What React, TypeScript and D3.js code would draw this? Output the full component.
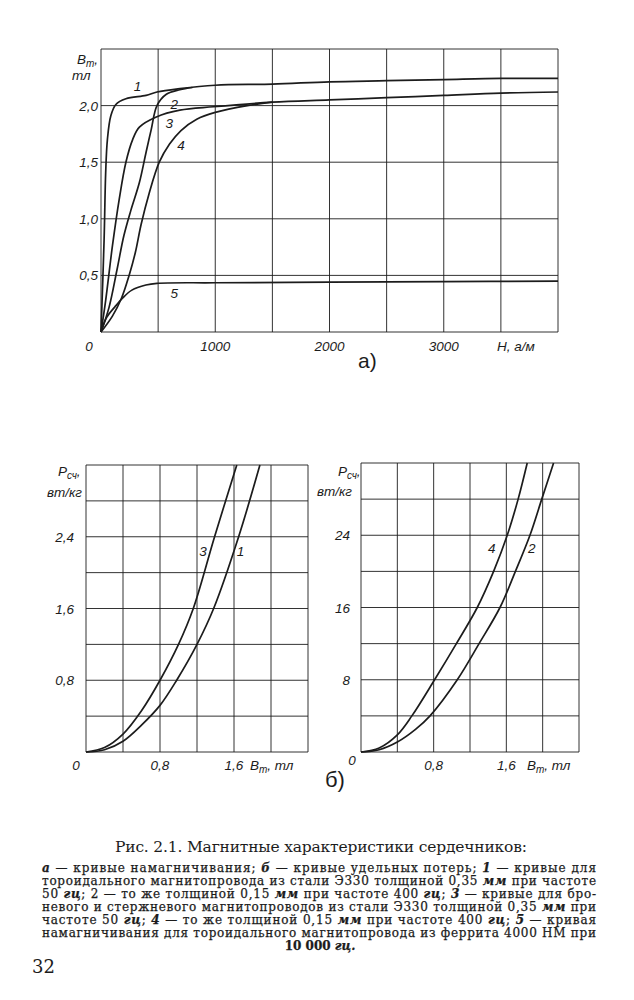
import React from 'react';
import * as d3 from 'd3';

type Pt = [number, number];

// а) кривые намагничивания, H (а/м) -> Bm (тл)
const magCurve1: Pt[] = [[0, 0], [27, 0.81], [41, 1.41], [56, 1.7], [86, 1.91], [130, 2.01], [218, 2.06], [395, 2.09], [490, 2.12], [690, 2.15], [1000, 2.18], [1500, 2.19], [2000, 2.21], [2500, 2.22], [3000, 2.23], [3500, 2.24], [4000, 2.24]];
const magCurve2: Pt[] = [[0, 0], [71, 0.22], [140, 0.55], [200, 0.85], [260, 1.07], [336, 1.32], [395, 1.59], [440, 1.79], [490, 2.0], [572, 2.1], [690, 2.14], [800, 2.16]];
const magCurve3: Pt[] = [[0, 0], [41, 0.28], [100, 0.76], [159, 1.17], [218, 1.5], [277, 1.7], [336, 1.81], [484, 1.9], [690, 1.96], [985, 1.99], [1500, 2.03], [2000, 2.05], [2500, 2.07], [3000, 2.09], [3500, 2.11], [4000, 2.12]];
const magCurve4: Pt[] = [[0, 0], [100, 0.14], [180, 0.3], [246, 0.5], [300, 0.7], [351, 0.95], [420, 1.22], [510, 1.5], [600, 1.66], [700, 1.78], [838, 1.88], [1000, 1.94], [1280, 2.0], [1500, 2.03]];
const magCurve5: Pt[] = [[0, 0], [50, 0.13], [120, 0.22], [189, 0.3], [270, 0.37], [393, 0.415], [490, 0.43], [1000, 0.435], [2000, 0.44], [3000, 0.445], [4000, 0.45]];
const magCurves = [magCurve1, magCurve2, magCurve3, magCurve4, magCurve5];
// номера кривых и где они стоят (H, B)
const magLabels: [string, number, number][] = [['1', 319, 2.16], ['2', 641, 2.0], ['3', 598, 1.83], ['4', 700, 1.64], ['5', 641, 0.33]];

const hGrid = d3.range(0, 4001, 500);
const bGrid = d3.range(0, 2.51, 0.5);
const hTicks = [0, 1000, 2000, 3000];
const hTickLabels = ['0', '1000', '2000', '3000'];
const bTicks = [0.5, 1.0, 1.5, 2.0];
const bTickLabels = ['0,5', '1,0', '1,5', '2,0'];

// б) кривые удельных потерь, Bm (тл) -> Pсч (вт/кг)
const lossCurve3: Pt[] = [[0, 0], [0.2, 0.05], [0.4, 0.2], [0.6, 0.46], [0.8, 0.8], [1.0, 1.2], [1.16, 1.6], [1.39, 2.4], [1.63, 3.2]];
const lossCurve1: Pt[] = [[0, 0], [0.2, 0.025], [0.4, 0.12], [0.6, 0.3], [0.8, 0.52], [0.98, 0.8], [1.2, 1.2], [1.38, 1.6], [1.65, 2.4], [1.88, 3.2]];
const lossCurve4: Pt[] = [[0, 0], [0.2, 0.45], [0.4, 1.9], [0.56, 4], [0.81, 8], [1.05, 12], [1.28, 16], [1.46, 20], [1.61, 24], [1.73, 28], [1.83, 32]];
const lossCurve2: Pt[] = [[0, 0], [0.2, 0.25], [0.4, 1.1], [0.6, 2.5], [0.76, 4], [1.06, 8], [1.3, 12], [1.53, 16], [1.7, 20], [1.86, 24], [1.99, 28], [2.12, 32]];
const lossLabelsLeft: [string, number, number][] = [['3', 1.265, 2.22], ['1', 1.67, 2.22]];
const lossLabelsRight: [string, number, number][] = [['4', 1.44, 22.4], ['2', 1.88, 22.4]];

const bmGrid = d3.range(7).map(i => i * 0.4);
const pLeftGrid = d3.range(9).map(i => i * 0.4);
const pRightGrid = d3.range(9).map(i => i * 4);
const bmTicks = [0.8, 1.6];
const bmTickLabels = ['0,8', '1,6'];
const pLeftTicks = [0.8, 1.6, 2.4];
const pLeftTickLabels = ['0,8', '1,6', '2,4'];
const pRightTicks = [8, 16, 24];
const pRightTickLabels = ['8', '16', '24'];

const captionTitle = 'Рис. 2.1. Магнитные характеристики сердечников:';
// _..._ = курсив
const captionLines = [
  '_а_ — кривые намагничивания; _б_ — кривые удельных потерь; _1_ — кривые для',
  'тороидального магнитопровода из стали Э330 толщиной 0,35 _мм_ при частоте',
  '50 _гц_; 2 — то же толщиной 0,15 _мм_ при частоте 400 _гц_; _3_ — кривые для бро-',
  'невого и стержневого магнитопроводов из стали Э330 толщиной 0,35 _мм_ при',
  'частоте 50 _гц_; _4_ — то же толщиной 0,15 _мм_ при частоте 400 _гц_; _5_ — кривая',
  'намагничивания для тороидального магнитопровода из феррита 4000 НМ при',
];
const captionLast = '10 000 _гц._';

const INK = '#1c1c1c';
const SANS = '"Liberation Sans", Arial, sans-serif';
const SERIF = '"DejaVu Serif", "Liberation Serif", serif';

type Scale = d3.ScaleLinear<number, number>;

const Panel: React.FC<{ x: Scale; y: Scale; xs: number[]; ys: number[]; curves: Pt[][] }> = ({ x, y, xs, ys, curves }) => {
  const [x0, x1] = x.range();
  const [y0, y1] = y.range();
  const line = d3.line<Pt>().x(d => x(d[0])).y(d => y(d[1])).curve(d3.curveCatmullRom.alpha(0.5));
  return (
    <g>
      <g stroke={INK} strokeWidth={0.9} fill="none">
        {xs.map(v => <line key={'gx' + v} x1={x(v)} x2={x(v)} y1={y0} y2={y1} />)}
        {ys.map(v => <line key={'gy' + v} x1={x0} x2={x1} y1={y(v)} y2={y(v)} />)}
      </g>
      <g stroke={INK} strokeWidth={1.7} fill="none" strokeLinejoin="round">
        {curves.map((c, i) => <path key={i} d={line(c) || ''} />)}
      </g>
    </g>
  );
};

const Italic: React.FC<{ s: string }> = ({ s }) => (
  <>
    {s.split('_').map((part, i) =>
      i % 2 === 1 ? <tspan key={i} fontStyle="italic" fontWeight="bold">{part}</tspan> : <tspan key={i}>{part}</tspan>
    )}
  </>
);

const App: React.FC = () => {
  const xA = d3.scaleLinear().domain([0, 4000]).range([101, 558]);
  const yA = d3.scaleLinear().domain([0, 2.5]).range([332, 49]);
  const xL = d3.scaleLinear().domain([0, 2.4]).range([86, 308]);
  const yL = d3.scaleLinear().domain([0, 3.2]).range([752, 465]);
  const xR = d3.scaleLinear().domain([0, 2.4]).range([361, 579]);
  const yR = d3.scaleLinear().domain([0, 32]).range([752, 463]);

  const tick = { fontFamily: SANS, fontStyle: 'italic' as const, fontSize: 13.5, fill: INK };
  const body = { fontFamily: SERIF, fill: INK, stroke: INK, strokeWidth: 0.25 };

  return (
    <svg width={634} height={1000} style={{ position: 'absolute', left: 0, top: 0, background: '#fff' }}>
      {/* а) */}
      <Panel x={xA} y={yA} xs={hGrid} ys={bGrid} curves={magCurves} />
      {bTicks.map((v, i) => (
        <text key={'bt' + v} {...tick} x={98} y={yA(v) + 5} textAnchor="end">{bTickLabels[i]}</text>
      ))}
      {hTicks.map((v, i) => (
        <text key={'ht' + v} {...tick} x={v === 0 ? xA(v) - 12 : xA(v)} y={351} textAnchor="middle">{hTickLabels[i]}</text>
      ))}
      <text {...tick} x={497} y={351}>H, a/м</text>
      <text {...tick} x={77} y={64}>B<tspan fontSize={10} dy={3}>m</tspan><tspan dy={-3}>,</tspan></text>
      <text {...tick} x={72} y={80}>тл</text>
      {magLabels.map(([t, h, b]) => (
        <text key={'ml' + t} {...tick} x={xA(h)} y={yA(b)} textAnchor="middle" dominantBaseline="middle">{t}</text>
      ))}
      <text {...tick} fontSize={21} fontStyle="normal" x={xA(2250)} y={368}>а)</text>

      {/* б) левый */}
      <Panel x={xL} y={yL} xs={bmGrid} ys={pLeftGrid} curves={[lossCurve3, lossCurve1]} />
      {pLeftTicks.map((v, i) => (
        <text key={'pl' + v} {...tick} x={74} y={yL(v) + 5} textAnchor="end">{pLeftTickLabels[i]}</text>
      ))}
      <text {...tick} x={76} y={770} textAnchor="middle">0</text>
      {bmTicks.map((v, i) => (
        <text key={'bl' + v} {...tick} x={xL(v)} y={770} textAnchor="middle">{bmTickLabels[i]}</text>
      ))}
      <text {...tick} x={250} y={770}>B<tspan fontSize={10} dy={3}>m</tspan><tspan dy={-3}>, тл</tspan></text>
      <text {...tick} x={58} y={476}>P<tspan fontSize={10} dy={3}>сч</tspan><tspan dy={-3}>,</tspan></text>
      <text {...tick} x={47} y={497}>вт/кг</text>
      {lossLabelsLeft.map(([t, bx, py]) => (
        <text key={'ll' + t} {...tick} x={xL(bx)} y={yL(py)} textAnchor="middle" dominantBaseline="middle">{t}</text>
      ))}

      {/* б) правый */}
      <Panel x={xR} y={yR} xs={bmGrid} ys={pRightGrid} curves={[lossCurve4, lossCurve2]} />
      {pRightTicks.map((v, i) => (
        <text key={'pr' + v} {...tick} x={350} y={yR(v) + 5} textAnchor="end">{pRightTickLabels[i]}</text>
      ))}
      <text {...tick} x={352} y={765} textAnchor="middle">0</text>
      {bmTicks.map((v, i) => (
        <text key={'br' + v} {...tick} x={xR(v)} y={770} textAnchor="middle">{bmTickLabels[i]}</text>
      ))}
      <text {...tick} x={527} y={770}>B<tspan fontSize={10} dy={3}>m</tspan><tspan dy={-3}>, тл</tspan></text>
      <text {...tick} x={338} y={476}>P<tspan fontSize={10} dy={3}>сч</tspan><tspan dy={-3}>,</tspan></text>
      <text {...tick} x={317} y={496}>вт/кг</text>
      {lossLabelsRight.map(([t, bx, py]) => (
        <text key={'lr' + t} {...tick} x={xR(bx)} y={yR(py)} textAnchor="middle" dominantBaseline="middle">{t}</text>
      ))}
      <text {...tick} fontSize={22} fontStyle="normal" x={325} y={787}>б)</text>

      {/* подпись */}
      <text x={115} y={852} fontFamily={SERIF} fill={INK} fontSize={15.5} textLength={412} lengthAdjust="spacing">
        {captionTitle}
      </text>
      {captionLines.map((s, i) => (
        <text key={'cl' + i} {...body} x={42} y={871.5 + i * 13.1} fontSize={12}
          textLength={554} lengthAdjust="spacing">
          <Italic s={s} />
        </text>
      ))}
      <text {...body} x={320} y={950} fontSize={12} textAnchor="middle" fontWeight="bold">
        <Italic s={captionLast} />
      </text>
      <text x={32} y={973} fontFamily={SERIF} fill={INK} fontSize={18}>32</text>
    </svg>
  );
};

export default App;
